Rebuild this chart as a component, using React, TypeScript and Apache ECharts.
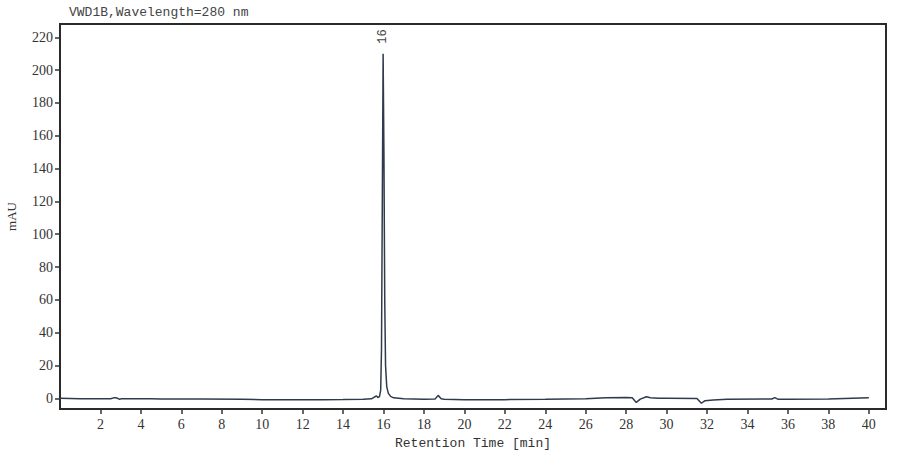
import { useEffect, useRef } from 'react';
import * as echarts from 'echarts';

// retention time [min] and detector signal [mAU]
const times = [
  0, 0.5, 1.0, 2.0, 2.5, 2.65, 2.75, 2.85, 2.95, 3.05, 3.3, 4.0, 4.5, 5, 7, 9, 10, 11, 12, 13, 14,
  15, 15.4, 15.55, 15.65, 15.72, 15.8, 15.86, 15.9, 15.94, 15.98, 16.02, 16.06, 16.1, 16.16, 16.24,
  16.35, 16.5, 17, 18, 18.55, 18.7, 18.85, 19, 20, 22, 24, 26, 27, 28, 28.3, 28.5, 28.7, 29.0,
  29.2, 29.6, 30, 31.5, 31.72, 31.9, 32.3, 33, 35.2, 35.35, 35.5, 36, 38, 40,
];
const signal = [
  0.0, -0.1, -0.2, -0.3, -0.3, 0.3, 0.4, 0.0, -0.6, -0.2, -0.3, -0.3, -0.2, -0.35, -0.4, -0.5,
  -0.8, -0.9, -0.9, -0.8, -0.7, -0.5, -0.3, 0.8, 1.5, 0.5, 1.0, 5, 30, 120, 210, 150, 60, 20, 7, 3,
  1.2, 0.3, -0.3, -0.5, -0.4, 1.8, -0.2, -0.6, -0.8, -0.8, -0.6, -0.2, 0.3, 0.5, 0.4, -2.5, -0.5,
  1.0, 0.4, 0.0, 0.0, -0.1, -3.0, -1.4, -1.0, -0.5, -0.4, 0.4, -0.5, -0.6, -0.4, 0.3,
];

const xTicks = [2, 4, 6, 8, 10, 12, 14, 16, 18, 20, 22, 24, 26, 28, 30, 32, 34, 36, 38, 40];
const yTicks = [0, 20, 40, 60, 80, 100, 120, 140, 160, 180, 200, 220];

const peakTimes = [15.98];
const peakHeights = [210];
const peakLabels = ['16'];

export default function App() {
  const chartRef = useRef<HTMLDivElement>(null);

  useEffect(() => {
    document.body.style.margin = '0';
    if (!chartRef.current) return;
    const chart = echarts.init(chartRef.current, null, { renderer: 'svg' });

    const tickFont = { fontFamily: 'Liberation Serif', fontSize: 14, color: '#333' };
    const monoFont = { fontFamily: 'Liberation Mono', fontSize: 13, color: '#333' };

    chart.setOption({
      animation: false,
      backgroundColor: '#fff',
      title: {
        text: 'VWD1B,Wavelength=280 nm',
        left: 64,
        top: 1,
        textStyle: { ...monoFont, fontWeight: 'normal', color: '#444' },
      },
      grid: {
        left: 60,
        top: 24,
        width: 826,
        height: 385,
        outerBoundsMode: 'none',
        containLabel: false,
        show: true,
        borderColor: '#2a2a2a',
        borderWidth: 2,
      },
      xAxis: {
        type: 'value',
        min: 0,
        max: 40.85,
        name: 'Retention Time [min]',
        nameLocation: 'middle',
        nameGap: 28,
        nameTextStyle: monoFont,
        axisLine: { show: true, onZero: false, lineStyle: { color: '#2a2a2a', width: 2 } },
        axisTick: { show: true, length: 5, customValues: xTicks, lineStyle: { color: '#333', width: 1.5 } },
        axisLabel: { customValues: xTicks, margin: 8, ...tickFont },
        splitLine: { show: false },
      },
      yAxis: {
        type: 'value',
        min: -6.5,
        max: 228.1,
        name: 'mAU',
        nameLocation: 'middle',
        nameGap: 42,
        nameRotate: 90,
        nameTextStyle: { fontFamily: 'Liberation Serif', fontSize: 13, color: '#333' },
        axisLine: { show: true, lineStyle: { color: '#2a2a2a', width: 2 } },
        axisTick: { show: true, length: 5, customValues: yTicks, lineStyle: { color: '#333', width: 1.5 } },
        axisLabel: { customValues: yTicks, margin: 7, ...tickFont },
        splitLine: { show: false },
      },
      series: [
        {
          type: 'line',
          data: times.map((t, i) => [t, signal[i]]),
          showSymbol: false,
          symbol: 'none',
          lineStyle: { color: '#2f3b4c', width: 1.5 },
          markPoint: {
            symbol: 'circle',
            symbolSize: 0,
            label: {
              show: true,
              position: 'top',
              distance: 10,
              rotate: 90,
              align: 'left',
              verticalAlign: 'middle',
              fontFamily: 'Liberation Mono',
              fontSize: 12,
              color: '#444',
              formatter: (p: any) => p.name,
            },
            data: peakTimes.map((t, i) => ({
              name: peakLabels[i],
              coord: [t, peakHeights[i]],
            })),
          },
        },
      ],
    });

    return () => {
      chart.dispose();
    };
  }, []);

  return <div ref={chartRef} style={{ width: 900, height: 454 }} />;
}
